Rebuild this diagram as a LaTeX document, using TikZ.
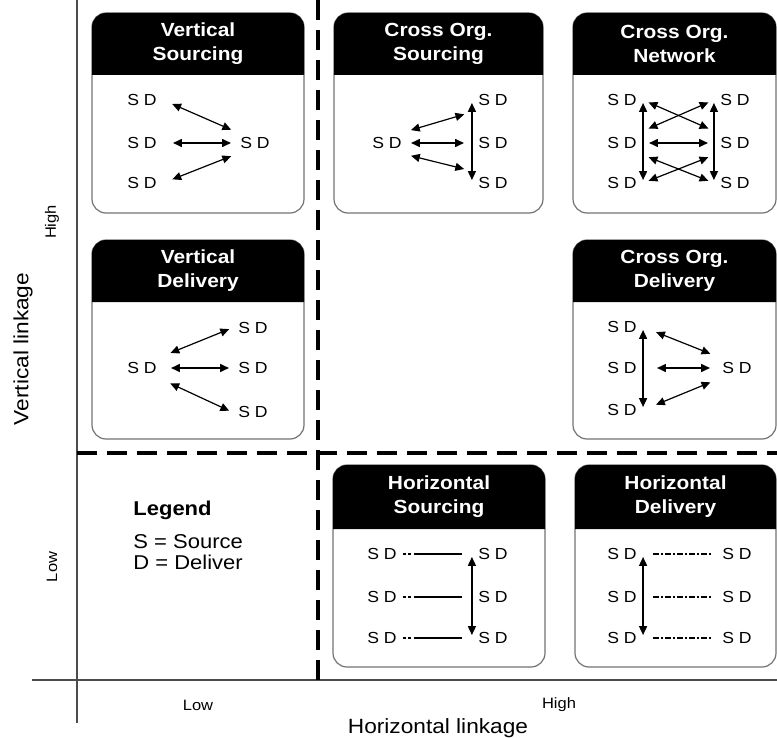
\documentclass[tikz,border=0pt]{standalone}
\usepackage{fontspec}
\setmainfont{Liberation Sans}[FakeStretch=1.1]
\usetikzlibrary{arrows.meta}
\tikzset{
% Panels: white body with a black title bar
panel/.style={draw=black!55,line width=0.6pt,fill=white,rounded corners=7pt},
title/.style={text=white,align=center,font=\fontsize{9.5}{12}\selectfont\bfseries},
% Source/deliver labels and the links between them
sd/.style={inner xsep=3pt,inner ysep=3pt,font=\fontsize{8}{9}\selectfont},
link/.style={{Triangle[length=4.4pt,width=4pt]}-{Triangle[length=4.4pt,width=4pt]},line width=0.6pt,shorten <=1.5pt,shorten >=1.5pt},
plainlink/.style={line width=0.6pt},
% Grid of the matrix
splitline/.style={line width=2pt,dash pattern=on 10pt off 5pt},
axisline/.style={draw=black!70,line width=0.8pt},
levellabel/.style={font=\fontsize{7.5}{9}\selectfont},
axislabel/.style={font=\fontsize{10.3}{12}\selectfont}
}

\begin{document}
\begin{tikzpicture}[x=0.5pt,y=-0.5pt]
      \clip (0,0) rectangle (777,738);
      % Axes and the dashed split into low/high
      \draw[axisline] (77,0) -- (77,723);
      \draw[axisline] (32,680) -- (777,680);
      \draw[splitline] (77,453) -- (777,453);
      \draw[splitline] (318,0) -- (318,680);
      \node(vlab)[axislabel,rotate=90] at (23,349) {Vertical linkage};
      \node(vhigh)[levellabel,rotate=90] at (52,222) {High};
      \node(vlow)[levellabel,rotate=90] at (52,567) {Low};
      \node(hlow)[levellabel] at (198,705) {Low};
      \node(hhigh)[levellabel] at (559,705) {High};
      \node(hlab)[axislabel] at (438,728) {Horizontal linkage};
      % Legend
      \node(legend)[anchor=base west,inner sep=0,font=\fontsize{10}{12}\selectfont\bfseries] at (133,515) {Legend};
      \node(keys)[anchor=base west,inner sep=0,font=\fontsize{10}{12}\selectfont] at (133,548) {S = Source};
      \node(keyd)[anchor=base west,inner sep=0,font=\fontsize{10}{12}\selectfont] at (133,569) {D = Deliver};

      % Vertical Sourcing
      \draw[panel] (92,13) rectangle (304,213);
      \fill (92,75) [rounded corners=7pt] -- (92,13) -- (304,13) [sharp corners] -- (304,75) -- cycle;
      \node(vst)[title] at (198,44) {Vertical\\Sourcing};
      \node(vs1)[sd] at (142,100) {S D};
      \node(vs2)[sd] at (142,143) {S D};
      \node(vs3)[sd] at (142,183) {S D};
      \node(vs0)[sd] at (255,143) {S D};
      \draw[link,shorten <=5pt] (vs1.east) -- (vs0.north west);
      \draw[link,shorten <=5pt] (vs2.east) -- (vs0.west);
      \draw[link,shorten <=5pt] (vs3.east) -- (vs0.south west);

      % Cross Org. Sourcing
      \draw[panel] (334,13) rectangle (543,213);
      \fill (334,75) [rounded corners=7pt] -- (334,13) -- (543,13) [sharp corners] -- (543,75) -- cycle;
      \node(cst)[title] at (438.5,44) {Cross Org.\\Sourcing};
      \node(cs0)[sd] at (387,143) {S D};
      \node(cs1)[sd] at (493,100) {S D};
      \node(cs2)[sd] at (493,143) {S D};
      \node(cs3)[sd] at (493,183) {S D};
      \draw[link,shorten >=4pt] (cs0.north east) -- (cs1.south west);
      \draw[link,shorten >=4pt] (cs0.east) -- (cs2.west);
      \draw[link,shorten >=4pt] (cs0.south east) -- (cs3.north west);
      \draw[link] (cs1.west) -- (cs3.west);

      % Cross Org. Network
      \draw[panel] (573,13) rectangle (776,213);
      \fill (573,75) [rounded corners=7pt] -- (573,13) -- (776,13) [sharp corners] -- (776,75) -- cycle;
      \node(cnt)[title] at (674.5,44) {Cross Org.\\Network};
      \node(cn1)[sd] at (622,100) {S D};
      \node(cn2)[sd] at (622,143) {S D};
      \node(cn3)[sd] at (622,183) {S D};
      \node(cm1)[sd] at (735,100) {S D};
      \node(cm2)[sd] at (735,143) {S D};
      \node(cm3)[sd] at (735,183) {S D};
      \draw[link] (cn1.east) -- (cn3.east);
      \draw[link] (cm1.west) -- (cm3.west);
      \draw[link,shorten <=3pt,shorten >=3pt] (cn2.east) -- (cm2.west);
      \draw[link,shorten <=3pt,shorten >=3pt] (cn1.east) -- (cm2.north west);
      \draw[link,shorten <=3pt,shorten >=3pt] (cm1.west) -- (cn2.north east);
      \draw[link,shorten <=3pt,shorten >=3pt] (cn2.south east) -- (cm3.west);
      \draw[link,shorten <=3pt,shorten >=3pt] (cm2.south west) -- (cn3.east);

      % Vertical Delivery
      \draw[panel] (92,240) rectangle (304,439);
      \fill (92,302) [rounded corners=7pt] -- (92,240) -- (304,240) [sharp corners] -- (304,302) -- cycle;
      \node(vdt)[title] at (198,271) {Vertical\\Delivery};
      \node(vd0)[sd] at (142,368) {S D};
      \node(vd1)[sd] at (253,328) {S D};
      \node(vd2)[sd] at (253,368) {S D};
      \node(vd3)[sd] at (253,412) {S D};
      \draw[link,shorten <=4pt] (vd0.north east) -- (vd1.west);
      \draw[link,shorten <=4pt] (vd0.east) -- (vd2.west);
      \draw[link,shorten <=4pt] (vd0.south east) -- (vd3.west);

      % Cross Org. Delivery
      \draw[panel] (573,240) rectangle (776,439);
      \fill (573,302) [rounded corners=7pt] -- (573,240) -- (776,240) [sharp corners] -- (776,302) -- cycle;
      \node(cdt)[title] at (674.5,271) {Cross Org.\\Delivery};
      \node(cd1)[sd] at (622,327) {S D};
      \node(cd2)[sd] at (622,368) {S D};
      \node(cd3)[sd] at (622,410) {S D};
      \node(cd0)[sd] at (737,368) {S D};
      \draw[link] (cd1.east) -- (cd3.east);
      \draw[link,shorten <=7pt,shorten >=3pt] (cd1.east) -- (cd0.north west);
      \draw[link,shorten <=7pt,shorten >=3pt] (cd2.east) -- (cd0.west);
      \draw[link,shorten <=7pt,shorten >=3pt] (cd3.east) -- (cd0.south west);

      % Horizontal Sourcing
      \draw[panel] (333,465) rectangle (545,667);
      \fill (333,529) [rounded corners=7pt] -- (333,465) -- (545,465) [sharp corners] -- (545,529) -- cycle;
      \node(hst)[title] at (439,497) {Horizontal\\Sourcing};
      \node(hs1)[sd] at (382,554) {S D};
      \node(hs2)[sd] at (382,597) {S D};
      \node(hs3)[sd] at (382,638) {S D};
      \node(ht1)[sd] at (493,554) {S D};
      \node(ht2)[sd] at (493,597) {S D};
      \node(ht3)[sd] at (493,638) {S D};
      \draw[plainlink,dash pattern=on 1.5pt off 1pt on 1.5pt off 1.5pt on 40pt,shorten >=5pt] (hs1.east) -- (ht1.west);
      \draw[plainlink,dash pattern=on 1.5pt off 1pt on 1.5pt off 1.5pt on 40pt,shorten >=5pt] (hs2.east) -- (ht2.west);
      \draw[plainlink,dash pattern=on 1.5pt off 1pt on 1.5pt off 1.5pt on 40pt,shorten >=5pt] (hs3.east) -- (ht3.west);
      \draw[link] (ht1.west) -- (ht3.west);

      % Horizontal Delivery
      \draw[panel] (575,465) rectangle (776,667);
      \fill (575,529) [rounded corners=7pt] -- (575,465) -- (776,465) [sharp corners] -- (776,529) -- cycle;
      \node(hdt)[title] at (675.5,497) {Horizontal\\Delivery};
      \node(hd1)[sd] at (622,554) {S D};
      \node(hd2)[sd] at (622,597) {S D};
      \node(hd3)[sd] at (622,638) {S D};
      \node(he1)[sd] at (737,554) {S D};
      \node(he2)[sd] at (737,597) {S D};
      \node(he3)[sd] at (737,638) {S D};
      \draw[plainlink,dash pattern=on 3pt off 1pt on 1pt off 1pt,shorten <=5pt,shorten >=2.5pt] (hd1.east) -- (he1.west);
      \draw[plainlink,dash pattern=on 3pt off 1pt on 1pt off 1pt,shorten <=5pt,shorten >=2.5pt] (hd2.east) -- (he2.west);
      \draw[plainlink,dash pattern=on 3pt off 1pt on 1pt off 1pt,shorten <=5pt,shorten >=2.5pt] (hd3.east) -- (he3.west);
      \draw[link] (hd1.east) -- (hd3.east);
\end{tikzpicture}
\end{document}
